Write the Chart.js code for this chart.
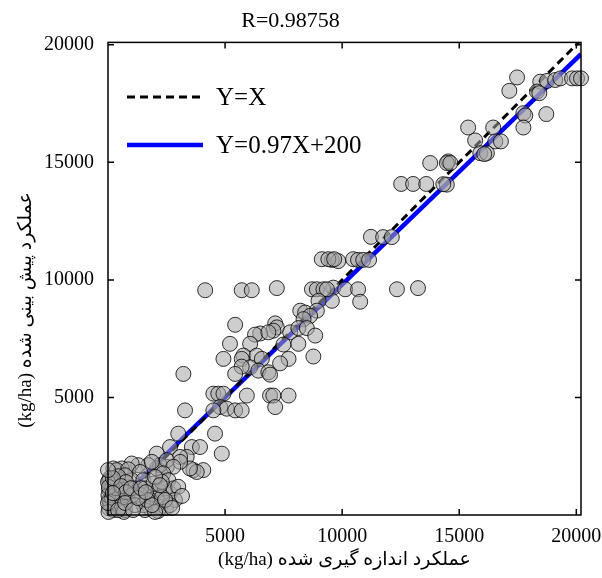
<!DOCTYPE html>
<html>
<head>
<meta charset="utf-8">
<script src="https://cdn.jsdelivr.net/npm/chart.js@4.4.1/dist/chart.umd.min.js"></script>
<style>
  html, body { margin: 0; padding: 0; background: #fff; }
  #chart { display: block; }
</style>
</head>
<body>
<canvas id="chart" width="602" height="578" dir="rtl"></canvas>
<script>
// measured yield (x) and predicted yield (y), kg/ha
const measured = [
  17470, 17140, 18460, 18750, 19100, 19320, 19820, 20030, 20200, 18320, 18420, 17740, 17820, 18720, 17740, 15380, 16450, 15680, 16540, 16780, 15900, 16180, 14530, 14470, 14470, 14320,
  16070, 13760, 14620, 12520, 13030, 13590, 11230, 11750, 12120, 9560, 9830, 10470, 10680, 10900, 11150, 9620, 10130, 10680, 10770, 9560, 12340, 13240,
  9130, 9410, 9660, 4150, 5710, 6140, 7210, 8710, 8920, 9200, 9350, 8990, 8210, 8420, 8920, 8630, 8350, 5430, 7140, 7210, 7060, 6500, 6280, 6850, 7780, 8130, 8490, 8850, 8130, 7490, 6070, 5210, 5780, 5710, 6350, 6570, 4930, 7710, 7350, 8770, 6070, 5710, 6420, 6850, 6920, 5430, 3220, 4500, 4710, 4930, 5930, 6920, 7060, 7710, 7140, 4790, 5070, 5430, 5710, 4500, 3290,
  3000, 4570, 4860, 2650, 3580, 3930, 2080, 3360, 3080, 3650, 4070, 3790, 3500, 3080, 2510, 2080, 2220, 1720, 1290, 1010, 590, 230, 370, 870, 1370, 1870, 2510, 2790, 2360,
  50, 50, 50, 50, 300, 300, 370, 590, 650, 510, 870, 230, 90, 1010, 1150, 1510, 1580, 1800, 1940, 2150, 2080, 1800, 2220, 1800, 1510, 2580, 2650, 2440, 2790, 3000, 2300, 2010,
  1580, 2140, 2480, 730, 430, 170, 730, 1370, 2860, 3160,
  85, 430, 770, 20, 170, 510, 850, 1030, 20, 680, 1150, 340, 1670, 2650, 2310, 2010,
  0, 40, 210, 560, 770, 980, 0, 430, 210, 730, 1070, 1280, 1410, 0,
  1880, 2440, 2740, 1620, 2220
];
const predicted = [
  18610, 18040, 18430, 18460, 18500, 18570, 18570, 18570, 18570, 18010, 17940, 17090, 16990, 17050, 16480, 16480, 16480, 15930, 15890, 15890, 15390, 15390, 15040, 14970, 14050, 14070,
  15350, 14970, 14970, 14080, 14080, 14080, 11830, 11820, 11820, 10850, 10800, 10880, 10850, 10850, 10850, 9670, 9600, 9600, 9070, 9110, 9600, 9650,
  10880, 10880, 10880, 9560, 9560, 9560, 9650, 9600, 9600, 9600, 9600, 9110, 8690, 8610, 8690, 8470, 8330, 8090, 8150, 7980, 7840, 7720, 7670, 7770, 7770, 7950, 7950, 7630, 7280, 7250, 7280, 7280, 6780, 6640, 6780, 6640, 6640, 6640, 6450, 6740, 6280, 6310, 6140, 6070, 5970, 6000, 6000, 5160, 5160, 5160, 5080, 5080, 5080, 5080, 4590, 4590, 4520, 4450, 4450, 4450, 4450,
  3460, 3460, 2610, 2890, 2890, 2890, 2610, 2470, 2470, 1910, 1910, 1830, 1980, 2260, 2050, 1980, 2120, 2120, 2120, 2190, 1980, 1980, 1910, 1940, 1830, 2260, 2330, 2050, 1770,
  1480, 1060, 640, 280, 1340, 920, 500, 1480, 1060, 710, 1200, 210, 500, 1480, 1130, 1480, 1130, 920, 1340, 1060, 710, 640, 350, 280, 420, 1480, 920, 1130, 1130, 1200, 1410, 1620,
  210, 170, 300, 210, 850, 1140, 1690, 850, 640, 810,
  1570, 1650, 1400, 850, 720, 340, 640, 850, 130, 130, 420, 1140, 640, 420, 760, 130,
  1400, 1190, 1570, 1230, 970, 1140, 510, 210, 930, 510, 210, 720, 1140, 1910,
  420, 640, 300, 970, 1270
];

// reference lines (end points)
const lineX = [0, 20200];
const identityY = [0, 20200];
const fitY = [200, 19600];

const xTicks = [5000, 10000, 15000, 20000];
const yTicks = [5000, 10000, 15000, 20000];

const titleText = 'R=0.98758';
const xTitle = 'عملکرد اندازه گیری شده (kg/ha)';
const yTitle = 'عملکرد پیش بینی شده (kg/ha)';

const serif = "'Liberation Serif', 'Times New Roman', 'DejaVu Sans', serif";

const pts = measured.map((x, i) => ({ x: x, y: predicted[i] }));
const idLine = lineX.map((x, i) => ({ x: x, y: identityY[i] }));
const fitLine = lineX.map((x, i) => ({ x: x, y: fitY[i] }));

// box + inward tick marks like matlab axes
const frame = {
  id: 'frame',
  afterDatasetsDraw(chart) {
    const { ctx, chartArea: a, scales } = chart;
    ctx.save();
    ctx.strokeStyle = '#000';
    ctx.lineWidth = 1.5;
    ctx.strokeRect(a.left, a.top, a.right - a.left, a.bottom - a.top);
    ctx.beginPath();
    xTicks.forEach(v => {
      const p = scales.x.getPixelForValue(v);
      ctx.moveTo(p, a.bottom); ctx.lineTo(p, a.bottom - 6);
      ctx.moveTo(p, a.top); ctx.lineTo(p, a.top + 6);
    });
    yTicks.forEach(v => {
      const p = scales.y.getPixelForValue(v);
      ctx.moveTo(a.left, p); ctx.lineTo(a.left + 6, p);
      ctx.moveTo(a.right, p); ctx.lineTo(a.right - 6, p);
    });
    ctx.stroke();
    ctx.restore();
  }
};

// legend inside the plot (top left) and the rotated y title
const labels = {
  id: 'labels',
  afterDraw(chart) {
    const { ctx } = chart;
    const rows = [chart.data.datasets[1], chart.data.datasets[2]];
    ctx.save();
    rows.forEach((ds, i) => {
      const y = 97 + i * 48;
      ctx.beginPath();
      ctx.setLineDash(ds.borderDash || []);
      ctx.strokeStyle = ds.borderColor;
      ctx.lineWidth = ds.borderWidth;
      ctx.moveTo(127, y);
      ctx.lineTo(203, y);
      ctx.stroke();
      ctx.setLineDash([]);
      ctx.fillStyle = '#000';
      ctx.font = '25px ' + serif;
      ctx.textAlign = 'left';
      ctx.textBaseline = 'middle';
      ctx.fillText(ds.label, 216, y + 1);
    });
    ctx.translate(26, 310);
    ctx.rotate(-Math.PI / 2);
    ctx.font = '19px ' + serif;
    ctx.textAlign = 'center';
    ctx.textBaseline = 'middle';
    ctx.fillText(yTitle, 0, 0);
    ctx.restore();
  }
};

new Chart(document.getElementById('chart'), {
  type: 'scatter',
  data: {
    datasets: [
      {
        label: 'data',
        data: pts,
        pointRadius: 7.5,
        pointBackgroundColor: 'rgba(165,165,165,0.55)',
        pointBorderColor: 'rgba(0,0,0,0.8)',
        pointBorderWidth: 1,
        showLine: false,
        clip: false,
        order: 0
      },
      {
        label: 'Y=X',
        data: idLine,
        showLine: true,
        pointRadius: 0,
        borderColor: '#000',
        borderWidth: 3,
        borderDash: [8, 5],
        order: 1
      },
      {
        label: 'Y=0.97X+200',
        data: fitLine,
        showLine: true,
        pointRadius: 0,
        borderColor: '#0000ff',
        borderWidth: 4.5,
        order: 2
      }
    ]
  },
  options: {
    responsive: false,
    animation: false,
    events: [],
    layout: { padding: { left: 0, right: 21, top: 0, bottom: 0 } },
    plugins: {
      legend: { display: false },
      tooltip: { enabled: false },
      title: {
        display: true,
        text: titleText,
        color: '#000',
        font: { family: serif, size: 22, weight: 'normal' },
        padding: { top: 8, bottom: 8 }
      }
    },
    scales: {
      x: {
        type: 'linear',
        min: 0,
        max: 20200,
        grid: { display: false },
        border: { display: false },
        ticks: { color: '#000', font: { family: serif, size: 20 }, padding: 2, maxRotation: 0, callback: v => String(v) },
        afterBuildTicks: s => { s.ticks = xTicks.map(v => ({ value: v })); },
        afterFit: s => { s.height = 63; s.paddingLeft = 0; s.paddingRight = 0; },
        title: {
          display: true,
          text: xTitle,
          color: '#000',
          font: { family: serif, size: 19 },
          padding: { top: 0, bottom: 7 }
        }
      },
      y: {
        type: 'linear',
        min: 0,
        max: 20100,
        grid: { display: false },
        border: { display: false },
        ticks: { color: '#000', font: { family: serif, size: 20 }, padding: 6, callback: v => String(v) },
        afterBuildTicks: s => { s.ticks = yTicks.map(v => ({ value: v })); },
        afterFit: s => { s.width = 108; s.paddingTop = 0; s.paddingBottom = 0; }
      }
    }
  },
  plugins: [frame, labels]
});
</script>
</body>
</html>
